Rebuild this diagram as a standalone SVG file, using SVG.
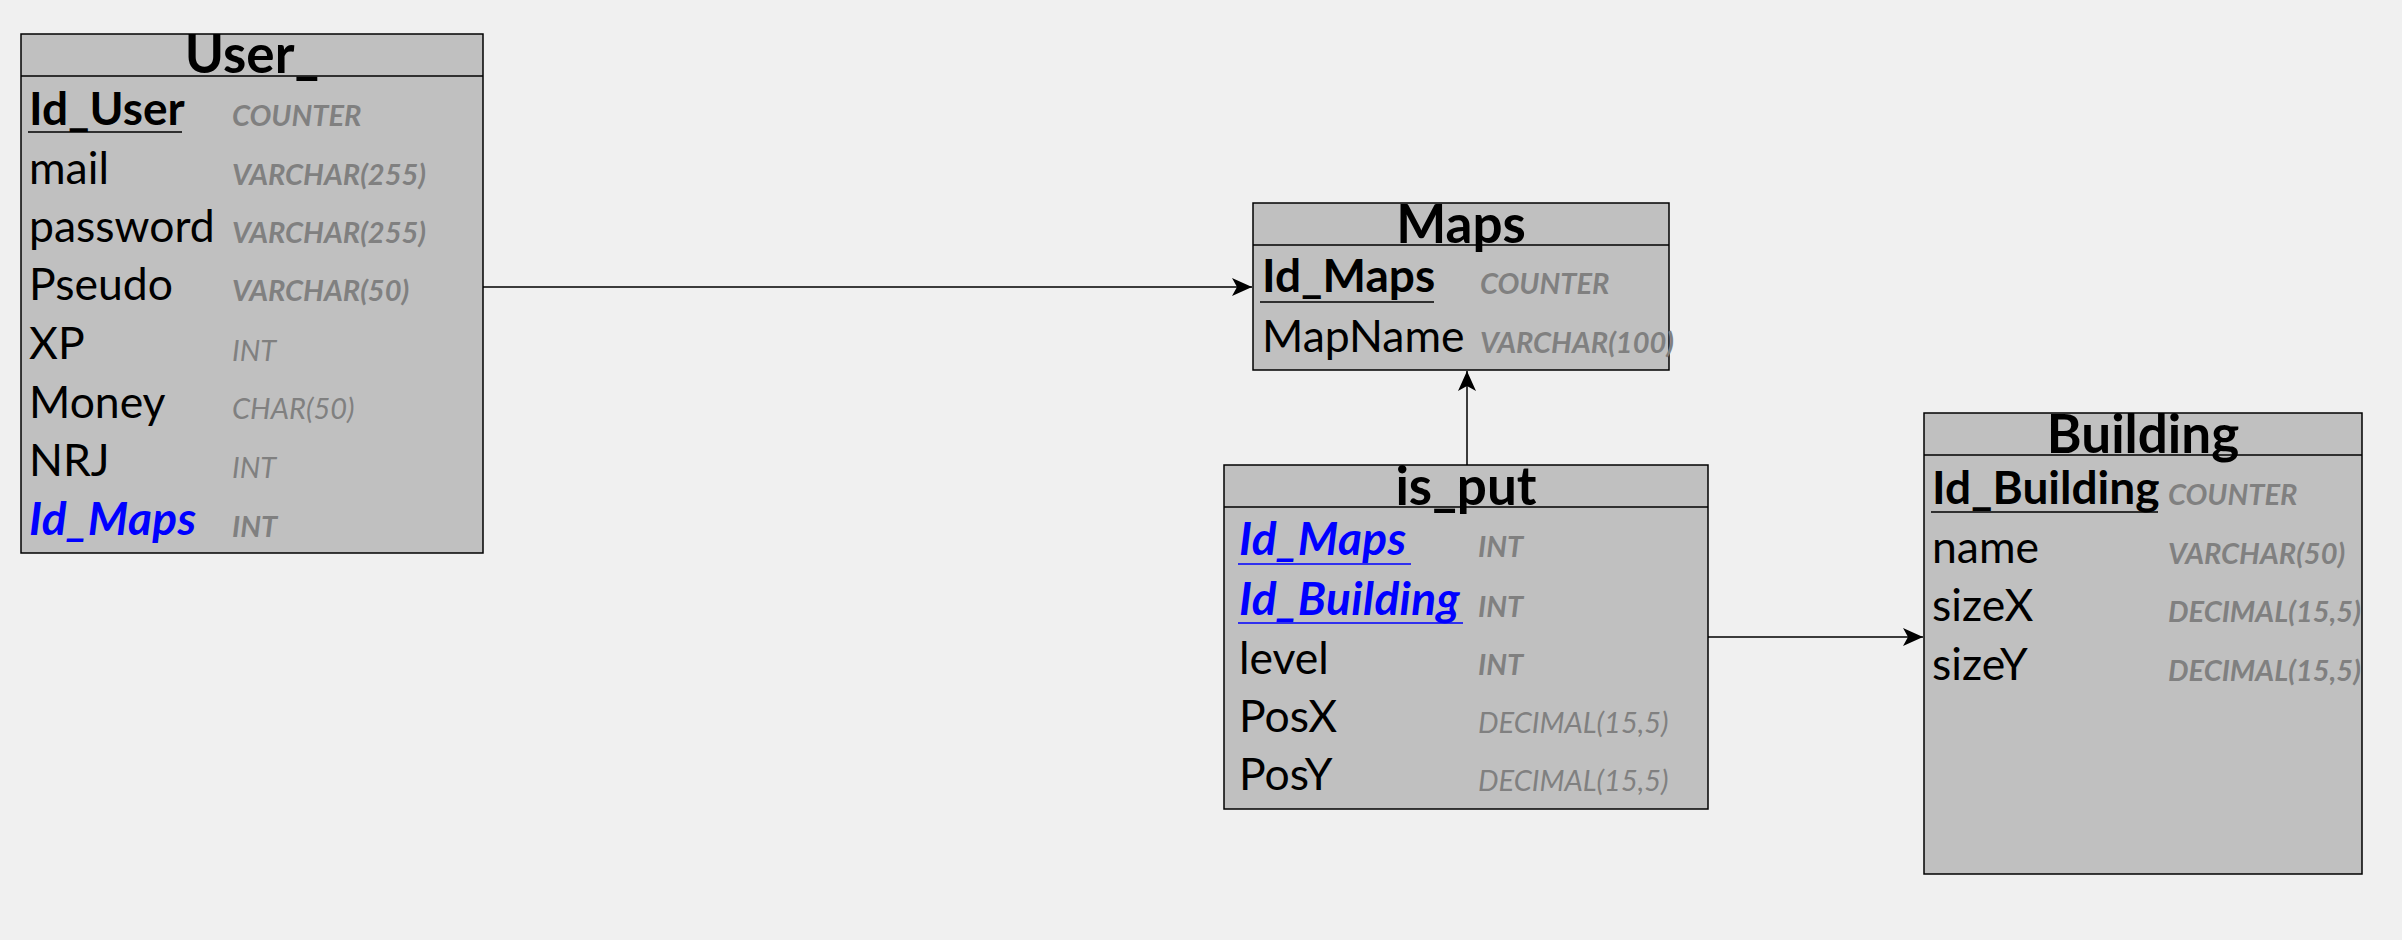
<svg xmlns="http://www.w3.org/2000/svg" width="2402" height="940" viewBox="0 0 2402 940">
<style>
.bg{fill:#F0F0F0}
.box{fill:#C0C0C0;stroke:#000;stroke-width:1.5}
.hl{stroke:#000;stroke-width:1.5}
.ul{stroke:#000;stroke-width:1.5}
.ulb{stroke:#0000FF;stroke-width:1.5}
text{font-family:Lato,"Liberation Sans",sans-serif}
.title{font-size:53px;font-weight:bold;text-anchor:middle;fill:#000}
.f{font-size:44.5px;fill:#000}
.pk{font-weight:bold;font-size:46px}
.fk{font-weight:bold;font-style:italic;fill:#0000FF;font-size:46px;letter-spacing:0.4px}
.t{font-size:29px;font-style:italic;fill:#808080}
.tb{font-weight:bold}
.conn{stroke:#000;stroke-width:1.5;fill:none}
</style>
<defs>
<marker id="arr" markerUnits="userSpaceOnUse" markerWidth="22" markerHeight="20" refX="20" refY="9" orient="auto">
<path d="M0,0 L20,9 L0,18 L5,9 Z" fill="#000"/>
</marker>
</defs>
<rect class="bg" x="0" y="0" width="2402" height="940"/>
<g id="connectors">
<line class="conn" x1="483" y1="287" x2="1252" y2="287" marker-end="url(#arr)"/>
<line class="conn" x1="1467" y1="465" x2="1467" y2="371" marker-end="url(#arr)"/>
<line class="conn" x1="1708" y1="637" x2="1923" y2="637" marker-end="url(#arr)"/>
</g>
<g id="User_">
<rect class="box" x="21" y="34" width="462" height="519"/>
<line class="hl" x1="21" y1="76" x2="483" y2="76"/>
<text class="title" x="252" y="73">User_</text>
<text class="f pk" x="29" y="125">Id_User</text>
<line class="ul" x1="28" y1="132" x2="182" y2="132"/>
<text class="t tb" x="232" y="126">COUNTER</text>
<text class="f" x="29" y="184">mail</text>
<text class="t tb" x="232" y="185">VARCHAR(255)</text>
<text class="f" x="29" y="242">password</text>
<text class="t tb" x="232" y="243">VARCHAR(255)</text>
<text class="f" x="29" y="300">Pseudo</text>
<text class="t tb" x="232" y="301">VARCHAR(50)</text>
<text class="f" x="29" y="359">XP</text>
<text class="t" x="232" y="361">INT</text>
<text class="f" x="29" y="418">Money</text>
<text class="t" x="232" y="419">CHAR(50)</text>
<text class="f" x="29" y="476">NRJ</text>
<text class="t" x="232" y="478">INT</text>
<text class="f fk" x="29" y="535">Id_Maps</text>
<text class="t tb" x="232" y="537">INT</text>
</g>
<g id="Maps">
<rect class="box" x="1253" y="203" width="416" height="167"/>
<line class="hl" x1="1253" y1="245" x2="1669" y2="245"/>
<text class="title" x="1461" y="243">Maps</text>
<text class="f pk" x="1262" y="292">Id_Maps</text>
<line class="ul" x1="1260" y1="302" x2="1434" y2="302"/>
<text class="t tb" x="1480" y="294">COUNTER</text>
<text class="f" x="1262" y="352">MapName</text>
<text class="t tb" x="1480" y="353">VARCHAR(100)</text>
</g>
<g id="is_put">
<rect class="box" x="1224" y="465" width="484" height="344"/>
<line class="hl" x1="1224" y1="507" x2="1708" y2="507"/>
<text class="title" x="1466" y="505">is_put</text>
<text class="f fk" x="1239" y="555">Id_Maps</text>
<line class="ulb" x1="1238" y1="564" x2="1411" y2="564"/>
<text class="t tb" x="1478" y="557">INT</text>
<text class="f fk" x="1239" y="615">Id_Building</text>
<line class="ulb" x1="1238" y1="623" x2="1463" y2="623"/>
<text class="t tb" x="1478" y="617">INT</text>
<text class="f" x="1239" y="674">level</text>
<text class="t tb" x="1478" y="675">INT</text>
<text class="f" x="1239" y="732">PosX</text>
<text class="t" x="1478" y="733">DECIMAL(15,5)</text>
<text class="f" x="1239" y="790">PosY</text>
<text class="t" x="1478" y="791">DECIMAL(15,5)</text>
</g>
<g id="Building">
<rect class="box" x="1924" y="413" width="438" height="461"/>
<line class="hl" x1="1924" y1="455" x2="2362" y2="455"/>
<text class="title" x="2143" y="453">Building</text>
<text class="f pk" x="1932" y="504">Id_Building</text>
<line class="ul" x1="1931" y1="512" x2="2158" y2="512"/>
<text class="t tb" x="2168" y="505">COUNTER</text>
<text class="f" x="1932" y="563">name</text>
<text class="t tb" x="2168" y="564">VARCHAR(50)</text>
<text class="f" x="1932" y="621">sizeX</text>
<text class="t tb" x="2168" y="622">DECIMAL(15,5)</text>
<text class="f" x="1932" y="680">sizeY</text>
<text class="t tb" x="2168" y="681">DECIMAL(15,5)</text>
</g>
</svg>
